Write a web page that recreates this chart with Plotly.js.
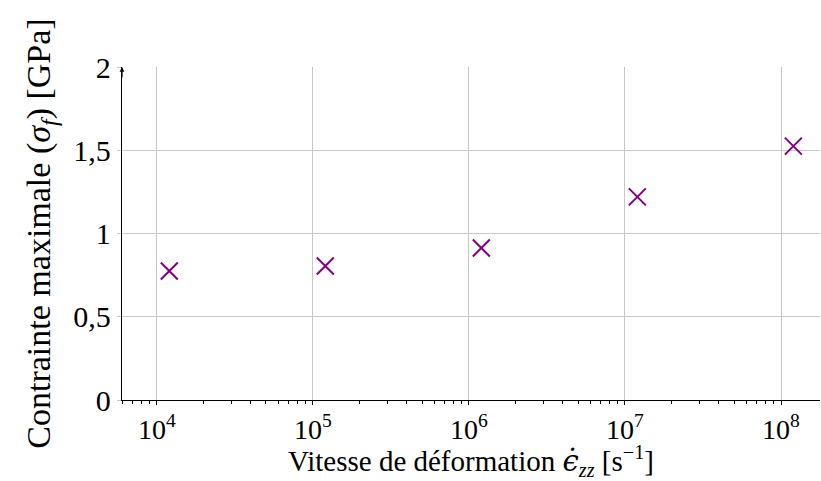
<!DOCTYPE html>
<html><head><meta charset="utf-8">
<script src="https://cdn.plot.ly/plotly-3.0.1.min.js"></script>
<style>html,body{margin:0;padding:0;background:#fff}#c{width:821px;height:481px}</style>
</head><body><div id="c"></div>
<script>
const strainRate = [1.2e4, 1.2e5, 1.2e6, 1.2e7, 1.2e8];
const maxStress = [0.775, 0.805, 0.913, 1.22, 1.525];
const xTickVals = [1e4, 1e5, 1e6, 1e7, 1e8];
const xTickText = ['10<sup>4</sup>', '10<sup>5</sup>', '10<sup>6</sup>', '10<sup>7</sup>', '10<sup>8</sup>'];
const yTickVals = [0, 0.5, 1, 1.5, 2];
const yTickText = ['0', '0,5', '1', '1,5', '2'];
const minorDecades = [1e3, 1e4, 1e5, 1e6, 1e7, 1e8];
const minorMults = [2, 3, 4, 5, 6, 7, 8, 9];

const minorVals = [];
minorDecades.forEach(d => minorMults.forEach(m => minorVals.push(d * m)));

const F = 'Liberation Serif, DejaVu Serif, serif';
const data = [{
  x: strainRate, y: maxStress, type: 'scatter', mode: 'markers',
  marker: {symbol: 'x-thin-open', size: 17, color: '#800080', line: {color: '#800080', width: 2}},
  showlegend: false, cliponaxis: false
}];
const layout = {
  width: 821, height: 481,
  margin: {l: 122, r: 1, t: 67, b: 81},
  paper_bgcolor: '#fff', plot_bgcolor: '#fff',
  font: {family: F, size: 30, color: '#000'},
  xaxis: {
    type: 'log', range: [3.776, 8.25],
    tickmode: 'array', tickvals: xTickVals, ticktext: xTickText,
    showgrid: true, gridcolor: '#c8c8c8', gridwidth: 1,
    showline: true, linecolor: '#000', linewidth: 1.2,
    ticks: 'outside', ticklen: 4, tickcolor: '#000', tickwidth: 1,
    minor: {tickmode: 'array', tickvals: minorVals, ticks: 'outside', ticklen: 3, tickcolor: '#000', tickwidth: 1, showgrid: false},
    zeroline: false, automargin: false,
    title: {text: 'Vitesse de déformation <span style="font-family:DejaVu Serif;font-style:italic">ϵ̇</span><sub><i>zz</i></sub> [s<sup>−1</sup>]', font: {family: F, size: 29}, standoff: 14},
    tickfont: {family: F, size: 28}
  },
  xaxis2: {
    type: 'log', range: [3.776, 8.25], overlaying: 'x', anchor: 'y', side: 'bottom',
    tickmode: 'array', tickvals: xTickVals, showticklabels: false,
    showgrid: false, showline: false, zeroline: false,
    ticks: 'inside', ticklen: 4, tickcolor: '#000', tickwidth: 1,
    minor: {tickmode: 'array', tickvals: minorVals, ticks: 'inside', ticklen: 3, tickcolor: '#000', tickwidth: 1, showgrid: false}
  },
  yaxis: {
    range: [0, 2], tickmode: 'array', tickvals: yTickVals, ticktext: yTickText,
    showgrid: true, gridcolor: '#c8c8c8', gridwidth: 1,
    showline: true, linecolor: '#000', linewidth: 1.2,
    ticks: 'outside', ticklen: 4, tickcolor: '#c8c8c8', zeroline: false, automargin: false,
    title: {text: 'Contrainte maximale (<i>σ<sub>f</sub></i>) [GPa]', font: {family: F, size: 34}, standoff: 12},
    tickfont: {family: F, size: 30}
  },
  annotations: [{
    xref: 'paper', yref: 'paper', x: 0, y: 1, ax: 0, ay: 12, axref: 'pixel', ayref: 'pixel',
    text: '', showarrow: true, arrowhead: 2, arrowsize: 0.8, arrowwidth: 1.2, arrowcolor: '#000'
  }]
};
Plotly.newPlot('c', data, layout, {staticPlot: true});
</script></body></html>
